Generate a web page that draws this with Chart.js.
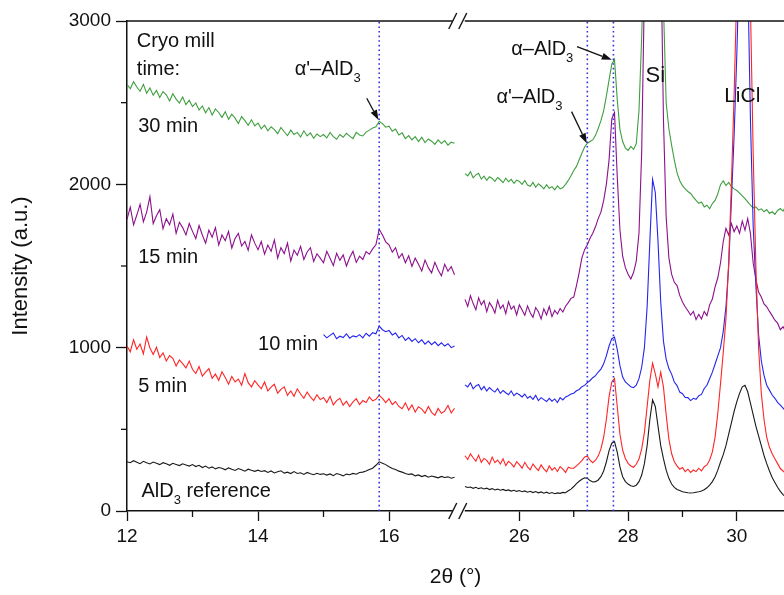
<!DOCTYPE html>
<html>
<head>
<meta charset="utf-8">
<script src="https://cdn.jsdelivr.net/npm/chart.js@4.4.0/dist/chart.umd.min.js"></script>
<style>
  html, body { margin: 0; padding: 0; background: #fff; }
  canvas { display: block; }
</style>
</head>
<body>
<canvas id="xrd" width="784" height="595"></canvas>
<script>
// scan angles, 2theta (deg)
const thetaLeft = [
  12,12.05,12.1,12.15,12.2,12.25,12.3,12.35,12.4,12.45,12.5,12.55,12.6,12.65,12.7,12.75,12.8,12.85,12.9,12.95,
  13,13.05,13.1,13.15,13.2,13.25,13.3,13.35,13.4,13.45,13.5,13.55,13.6,13.65,13.7,13.75,13.8,13.85,13.9,13.95,
  14,14.05,14.1,14.15,14.2,14.25,14.3,14.35,14.4,14.45,14.5,14.55,14.6,14.65,14.7,14.75,14.8,14.85,14.9,14.95,
  15,15.05,15.1,15.15,15.2,15.25,15.3,15.35,15.4,15.45,15.5,15.55,15.6,15.65,15.7,15.75,15.8,15.85,15.9,15.95,
  16,16.05,16.1,16.15,16.2,16.25,16.3,16.35,16.4,16.45,16.5,16.55,16.6,16.65,16.7,16.75,16.8,16.85,16.9,16.95,
  17
];
const thetaRight = [
  25,25.05,25.1,25.15,25.2,25.25,25.3,25.35,25.4,25.45,25.5,25.55,25.6,25.65,25.7,25.75,25.8,25.85,25.9,25.95,
  26,26.05,26.1,26.15,26.2,26.25,26.3,26.35,26.4,26.45,26.5,26.55,26.6,26.65,26.7,26.75,26.8,26.85,26.9,26.95,
  27,27.05,27.1,27.15,27.2,27.25,27.3,27.35,27.4,27.45,27.5,27.55,27.6,27.65,27.7,27.75,27.8,27.85,27.9,27.95,
  28,28.05,28.1,28.15,28.2,28.25,28.3,28.35,28.4,28.45,28.5,28.55,28.6,28.65,28.7,28.75,28.8,28.85,28.9,28.95,
  29,29.05,29.1,29.15,29.2,29.25,29.3,29.35,29.4,29.45,29.5,29.55,29.6,29.65,29.7,29.75,29.8,29.85,29.9,29.95,
  30,30.05,30.1,30.15,30.2,30.25,30.3,30.35,30.4,30.45,30.5,30.55,30.6,30.65,30.7,30.75,30.8,30.85,30.9
];
const thetaLeftBlue = thetaLeft.slice(60); // 10 min scan only from 15 deg

// intensities (a.u.)
const refLeft = [
  302,296,308,299,290,304,295,288,300,293,284,296,289,280,292,285,278,289,282,275,
  284,272,280,266,275,262,270,258,266,262,252,264,255,248,260,252,244,256,249,243,
  250,242,247,236,245,233,240,246,232,238,229,241,230,234,224,236,228,222,231,224,
  228,220,227,216,229,223,215,226,222,230,225,236,238,245,254,262,280,301,293,284,
  271,260,254,244,238,230,224,227,215,221,211,218,207,214,209,203,212,205,209,201,
  207
];
const refRight = [
  150,144,147,139,145,137,142,135,140,131,137,129,134,127,132,125,129,122,127,120,
  125,118,123,115,121,113,119,111,117,109,115,107,113,106,111,108,114,112,124,134,
  150,168,182,194,203,200,186,178,180,190,210,245,300,370,415,425,360,270,210,180,
  165,155,150,158,180,220,290,400,560,680,640,520,400,320,250,200,165,145,132,125,
  118,115,112,110,112,115,118,122,130,142,158,180,210,250,300,345,400,470,540,610,
  670,720,760,770,730,660,590,520,460,400,340,290,245,205,175,145,120,100,85
];
const min5Left = [
  1010,975,1048,990,1022,962,1065,998,958,1002,940,968,918,952,935,888,925,902,876,918,
  868,842,885,826,850,872,812,838,800,852,818,776,824,790,808,770,842,786,760,798,
  772,748,790,735,758,776,722,745,760,708,735,702,748,716,690,728,698,676,712,682,
  695,664,702,650,676,690,648,672,640,668,688,652,676,664,698,674,684,708,690,664,
  688,652,670,640,626,662,618,650,606,638,624,598,640,604,586,628,598,612,646,600,
  628
];
const min5Right = [
  338,315,350,326,305,342,298,322,310,286,330,296,312,288,320,278,304,290,270,302,
  284,262,298,270,252,288,266,248,282,258,240,276,250,266,242,272,256,236,268,262,
  262,276,292,309,331,336,312,296,311,336,380,450,560,700,790,812,640,470,372,322,
  292,276,268,286,318,380,480,640,800,905,840,760,850,760,590,440,352,302,276,256,
  266,241,256,236,251,241,262,246,271,282,312,362,452,600,780,970,1180,1520,2000,2550,
  3200,4000,4500,4500,4000,3100,2200,1500,1000,720,560,450,390,350,320,290,260,245,228
];
const min10Left = [
  1080,1060,1075,1090,1055,1070,1062,1085,1058,1072,1066,1080,1060,1088,1070,1092,1085,1132,1110,1098,
  1105,1078,1090,1060,1075,1045,1062,1038,1055,1030,1048,1022,1040,1018,1036,1012,1030,1010,1024,1000,
  1010
];
const min10Right = [
  772,760,785,748,766,774,742,762,735,756,740,728,750,720,738,724,712,735,706,722,
  712,698,716,690,702,684,708,676,694,682,670,690,672,686,664,694,680,698,706,716,
  721,736,744,761,769,786,799,816,829,851,869,901,950,1010,1055,1065,990,890,820,790,
  775,760,755,770,810,880,1000,1250,1650,2030,1950,1650,1280,1040,930,872,838,790,768,728,
  718,695,694,676,690,684,706,714,750,770,810,850,900,950,1000,1100,1250,1500,1900,2300,
  2800,3400,4300,4400,3300,2400,1750,1380,1080,920,830,770,740,710,690,665,648,630,612
];
const min15Left = [
  1785,1860,1752,1812,1878,1770,1830,1925,1760,1808,1845,1728,1790,1752,1818,1700,1768,1735,1690,1760,
  1712,1668,1748,1690,1640,1720,1676,1735,1628,1690,1655,1712,1610,1668,1700,1622,1650,1596,1690,1640,
  1600,1650,1572,1628,1590,1660,1548,1612,1576,1640,1530,1598,1566,1620,1540,1586,1612,1528,1575,1548,
  1520,1590,1548,1502,1578,1535,1568,1500,1552,1590,1522,1560,1540,1588,1572,1605,1630,1725,1690,1648,
  1630,1585,1612,1548,1575,1520,1562,1498,1548,1510,1470,1536,1490,1458,1522,1475,1440,1510,1468,1496,
  1446
];
const min15Right = [
  1296,1252,1318,1270,1232,1305,1262,1288,1220,1276,1250,1212,1290,1240,1262,1208,1282,1236,1254,1200,
  1262,1230,1198,1256,1214,1186,1246,1220,1176,1238,1200,1252,1190,1228,1206,1240,1218,1254,1276,1302,
  1310,1380,1460,1550,1600,1630,1670,1700,1740,1790,1830,1900,2000,2150,2400,2440,2050,1720,1560,1490,
  1450,1420,1460,1530,1700,2200,3200,4500,6000,7000,6500,5000,3500,2400,1800,1550,1450,1400,1380,1320,
  1280,1250,1226,1200,1222,1172,1204,1176,1222,1196,1262,1298,1372,1428,1520,1650,1730,1690,1760,1710,
  1745,1700,1775,1720,1790,1700,1520,1420,1340,1310,1268,1250,1222,1196,1168,1150,1110,1128,1098
];
const min30Left = [
  2612,2585,2628,2596,2570,2612,2558,2590,2546,2575,2532,2568,2548,2510,2555,2522,2498,2535,2488,2515,
  2476,2498,2455,2480,2438,2470,2425,2462,2440,2410,2445,2398,2430,2405,2372,2415,2390,2362,2395,2358,
  2375,2340,2362,2328,2352,2335,2310,2348,2322,2298,2332,2305,2318,2290,2328,2296,2315,2282,2308,2292,
  2305,2284,2318,2292,2276,2305,2288,2312,2295,2280,2318,2302,2296,2320,2332,2345,2352,2386,2372,2350,
  2356,2325,2338,2302,2315,2280,2298,2272,2292,2262,2288,2256,2278,2264,2245,2272,2250,2268,2240,2258,
  2252
];
const min30Right = [
  2066,2052,2078,2040,2058,2068,2032,2050,2024,2046,2036,2018,2042,2028,2010,2038,2016,2030,2006,2026,
  2018,2000,2024,1996,1988,2012,1982,2004,1990,1972,1998,1976,1986,1966,1990,1972,1980,2000,2024,2052,
  2085,2110,2150,2190,2228,2252,2262,2272,2300,2342,2390,2450,2540,2640,2735,2765,2520,2335,2262,2222,
  2208,2232,2214,2248,2450,2900,3600,5000,7000,8200,7800,6000,4200,3100,2500,2340,2240,2150,2070,2022,
  1992,1972,1956,1944,1922,1902,1884,1892,1862,1872,1850,1882,1902,1942,1998,2022,1992,2012,1986,1972,
  1962,1946,1930,1912,1892,1872,1856,1862,1842,1850,1832,1846,1822,1832,1816,1840,1852,1836,1866
];

// reflection markers (dotted lines), 2theta
const markerTheta = [15.85, 27.25, 27.73];

// axis ticks
const yTicks = [0, 500, 1000, 1500, 2000, 2500, 3000];
const yTickLabels = ['0', '', '1000', '', '2000', '', '3000'];
const xTicks = [12, 13, 14, 15, 16, 26, 27, 28, 29, 30];
const xTickLabels = ['12', '', '14', '', '16', '26', '', '28', '', '30'];

// broken x axis: 12-17 then 25-31 drawn a bit more compressed
const BREAK_FROM = 17, BREAK_TO = 25, BREAK_GAP = 0.16, SQUEEZE = 0.83;
const toU = (t) => t <= BREAK_FROM ? t : BREAK_FROM + BREAK_GAP + (t - BREAK_TO) * SQUEEZE;

const pts = (th, vals) => th.map((t, i) => ({ x: toU(t), y: vals[i] }));
const joined = (thL, left, right) => [
  ...pts(thL, left),
  { x: toU(BREAK_FROM) + BREAK_GAP / 2, y: null },
  ...pts(thetaRight, right),
];

const series = [
  { color: '#1a1a1a', data: joined(thetaLeft, refLeft, refRight) },
  { color: '#ff2424', data: joined(thetaLeft, min5Left, min5Right) },
  { color: '#2424f0', data: joined(thetaLeftBlue, min10Left, min10Right) },
  { color: '#8c108c', data: joined(thetaLeft, min15Left, min15Right) },
  { color: '#3f9f3f', data: joined(thetaLeft, min30Left, min30Right) },
];

const markers = markerTheta.map(t => ({
  data: [{ x: toU(t), y: 0 }, { x: toU(t), y: 3000 }],
  borderColor: '#3434d8',
  borderWidth: 1.6,
  borderDash: [1.6, 3],
}));

// text on the plot, positioned in data coordinates; '_' marks a subscript part
const notes = [
  { t: 12.15, v: 2841, parts: ['Cryo mill'] },
  { t: 12.15, v: 2670, parts: ['time:'] },
  { t: 12.17, v: 2323, parts: ['30 min'] },
  { t: 12.17, v: 1520, parts: ['15 min'] },
  { t: 14.0, v: 986, parts: ['10 min'] },
  { t: 12.17, v: 730, parts: ['5 min'] },
  { t: 12.22, v: 88, parts: ['AlD', '_3', ' reference'] },
  { t: 14.56, v: 2670, parts: ["α'–AlD", '_3'] },
  { t: 25.85, v: 2792, parts: ['α–AlD', '_3'] },
  { t: 25.58, v: 2497, parts: ["α'–AlD", '_3'] },
  { t: 28.5, v: 2627, parts: ['Si'], size: 22, center: true },
  { t: 30.1, v: 2505, parts: ['LiCl'], size: 21, center: true },
];
const arrows = [
  { from: [15.66, 2527], to: [15.84, 2394] },
  { from: [27.06, 2843], to: [27.7, 2762] },
  { from: [26.96, 2445], to: [27.24, 2252] },
];

const FONT = '"Liberation Sans", Arial, sans-serif';
Chart.defaults.font.family = FONT;
Chart.defaults.color = '#111';

const plotExtras = {
  id: 'plotExtras',
  afterDraw(chart) {
    const { ctx, chartArea: a, scales: { x, y } } = chart;
    const line = (x1, y1, x2, y2) => { ctx.beginPath(); ctx.moveTo(x1, y1); ctx.lineTo(x2, y2); ctx.stroke(); };
    ctx.save();
    ctx.strokeStyle = '#111';
    ctx.fillStyle = '#111';
    ctx.lineWidth = 1.5;

    // top frame line
    line(a.left, a.top, a.right, a.top);

    // minor ticks (shorter than the labelled ones)
    ctx.lineWidth = 1.3;
    xTicks.forEach((t, i) => {
      if (xTickLabels[i]) return;
      const px = x.getPixelForValue(toU(t));
      line(px, a.bottom, px, a.bottom + 6);
    });
    yTicks.forEach((v, i) => {
      if (yTickLabels[i]) return;
      const py = y.getPixelForValue(v);
      line(a.left - 6, py, a.left, py);
    });

    // axis break marks
    const bx = (x.getPixelForValue(toU(BREAK_FROM)) + x.getPixelForValue(toU(BREAK_TO))) / 2;
    [a.top, a.bottom].forEach(yy => {
      ctx.fillStyle = '#fff';
      ctx.fillRect(bx - 7, yy - 2, 12, 4);
      ctx.lineWidth = 1.4;
      [bx - 7, bx + 3].forEach(s => line(s - 4, yy + 8, s + 4, yy - 8));
    });

    // annotations
    ctx.fillStyle = '#111';
    ctx.textBaseline = 'alphabetic';
    notes.forEach(n => {
      const size = n.size || 20;
      const main = size + 'px ' + FONT, sub = Math.round(size * 0.65) + 'px ' + FONT;
      let w = 0;
      n.parts.forEach(p => {
        ctx.font = p[0] === '_' ? sub : main;
        w += ctx.measureText(p[0] === '_' ? p.slice(1) : p).width;
      });
      let px = x.getPixelForValue(toU(n.t));
      if (n.center) px -= w / 2;
      const py = y.getPixelForValue(n.v);
      n.parts.forEach(p => {
        const isSub = p[0] === '_';
        const txt = isSub ? p.slice(1) : p;
        ctx.font = isSub ? sub : main;
        ctx.textAlign = 'left';
        ctx.fillText(txt, px, isSub ? py + 7 : py);
        px += ctx.measureText(txt).width;
      });
    });

    // arrows
    ctx.lineWidth = 1.3;
    arrows.forEach(ar => {
      const x1 = x.getPixelForValue(toU(ar.from[0])), y1 = y.getPixelForValue(ar.from[1]);
      const x2 = x.getPixelForValue(toU(ar.to[0])), y2 = y.getPixelForValue(ar.to[1]);
      const ang = Math.atan2(y2 - y1, x2 - x1);
      const hl = 10, hw = 3.5;
      const bxh = x2 - hl * Math.cos(ang), byh = y2 - hl * Math.sin(ang);
      line(x1, y1, bxh, byh);
      ctx.beginPath();
      ctx.moveTo(x2, y2);
      ctx.lineTo(bxh + hw * Math.sin(ang), byh - hw * Math.cos(ang));
      ctx.lineTo(bxh - hw * Math.sin(ang), byh + hw * Math.cos(ang));
      ctx.closePath();
      ctx.fill();
    });
    ctx.restore();
  }
};

new Chart(document.getElementById('xrd'), {
  type: 'line',
  data: {
    datasets: [
      ...markers,
      ...series.map(s => ({ data: s.data, borderColor: s.color, borderWidth: 1.1 })),
    ],
  },
  options: {
    responsive: false,
    animation: false,
    devicePixelRatio: 1,
    spanGaps: false,
    elements: { point: { radius: 0 }, line: { tension: 0 } },
    layout: { padding: { top: 21, right: 0, left: 0, bottom: 0 } },
    plugins: { legend: { display: false }, tooltip: { enabled: false } },
    scales: {
      x: {
        type: 'linear',
        min: 12,
        max: 22.03,
        afterBuildTicks: (s) => { s.ticks = xTicks.map(t => ({ value: toU(t) })); },
        afterFit: (s) => { s.height = 84; s.paddingLeft = 0; s.paddingRight = 0; },
        ticks: {
          autoSkip: false, maxRotation: 0, padding: 4,
          font: { size: 19 },
          callback: (v, i) => xTickLabels[i],
        },
        grid: {
          drawOnChartArea: false, tickLength: 10, tickWidth: 1.3,
          tickColor: (c) => xTickLabels[c.index] ? '#111' : 'rgba(0,0,0,0)',
        },
        border: { color: '#111', width: 1.5 },
        title: { display: true, text: '2θ (°)', font: { size: 21 }, padding: { top: 0, bottom: 5 } },
      },
      y: {
        min: 0,
        max: 3000,
        afterBuildTicks: (s) => { s.ticks = yTicks.map(v => ({ value: v })); },
        afterFit: (s) => { s.width = 127; },
        ticks: { padding: 5, font: { size: 19 }, callback: (v, i) => yTickLabels[i] },
        grid: {
          drawOnChartArea: false, tickLength: 11, tickWidth: 1.3,
          tickColor: (c) => yTickLabels[c.index] ? '#111' : 'rgba(0,0,0,0)',
        },
        border: { color: '#111', width: 1.5 },
        title: { display: true, text: 'Intensity (a.u.)', font: { size: 22 }, padding: { top: 8, bottom: 0 } },
      },
    },
  },
  plugins: [plotExtras],
});
</script>
</body>
</html>
